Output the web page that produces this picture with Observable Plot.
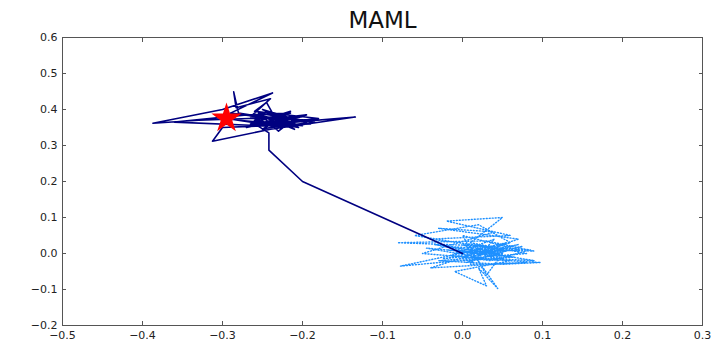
<!DOCTYPE html>
<html>
<head>
<meta charset="utf-8">
<script src="https://cdn.jsdelivr.net/npm/d3@7"></script>
<script src="https://cdn.jsdelivr.net/npm/@observablehq/plot@0.6"></script>
<style>
  html, body { margin: 0; padding: 0; background: #fff; }
</style>
</head>
<body>
<div id="chart"></div>
<script>
const title = "MAML";
const xTicks = [-0.5, -0.4, -0.3, -0.2, -0.1, 0.0, 0.1, 0.2, 0.3];
const yTicks = [-0.2, -0.1, 0.0, 0.1, 0.2, 0.3, 0.4, 0.5, 0.6];

// pre-update trajectory (light blue, dotted)
const preX = [0, 0.03, -0.04, 0.06, -0.02, 0.05, 0.01, 0.08, -0.03, 0.05, 0.0975, 0.02, -0.0775, 0.04, -0.081, 0.03, 0.089, 0.01, 0.044, 0.02, 0.03, -0.01, 0.06, -0.05, 0.04, -0.03, 0.07, 0.0, 0.09, -0.02, 0.05, -0.06, 0.02, 0.06, -0.04, 0.08, 0.01, 0.04, -0.01, 0.07, 0.0, 0.03, 0.05,
  -0.02, 0.06, 0.0, 0.045, -0.045, 0.03, 0.075, 0.005, 0.055, -0.015, 0.035, 0.085, 0.015, 0.05, -0.035, 0.025, 0.065, 0.0, 0.04, 0.02, 0.07, -0.025, 0.035, 0.06, 0.01];
const preY = [0, 0.02, 0.04, 0.05, 0.09, 0.1, 0.03, 0.0, -0.02, -0.03, -0.025, -0.015, -0.035, 0.02, 0.03, 0.035, 0.007, 0.01, -0.097, -0.04, -0.09, -0.05, -0.02, 0.0, 0.06, 0.07, 0.04, -0.01, -0.02, 0.02, 0.01, 0.05, 0.08, 0.03, -0.04, -0.025, -0.03, 0.04, 0.0, 0.01, 0.05, -0.06, 0.0,
  0.01, -0.01, 0.025, -0.02, 0.015, 0.0, 0.02, -0.025, 0.03, -0.005, -0.02, 0.01, 0.02, -0.015, 0.025, 0.005, -0.01, -0.02, 0.015, -0.005, 0.025, -0.015, 0.0, 0.01, -0.02];

// post-update trajectory (navy, solid)
const postX = [0, -0.2, -0.242, -0.242, -0.26, -0.2, -0.33, -0.387, -0.3, -0.2375, -0.29, -0.22, -0.25, -0.19, -0.3, -0.3125, -0.24, -0.134, -0.21, -0.28, -0.286, -0.283, -0.24, -0.265, -0.19, -0.25, -0.36, -0.27, -0.215, -0.26, -0.205, -0.24, -0.22, -0.27, -0.18, -0.26, -0.245, -0.23, -0.28, -0.2,
  -0.255, -0.21, -0.235, -0.195, -0.27, -0.225, -0.25, -0.2, -0.265, -0.215, -0.24, -0.185, -0.255, -0.23, -0.21, -0.25, -0.295];
const postY = [0, 0.2, 0.287, 0.335, 0.36, 0.38, 0.37, 0.362, 0.4, 0.446, 0.39, 0.37, 0.4, 0.36, 0.35, 0.312, 0.345, 0.379, 0.365, 0.39, 0.449, 0.405, 0.43, 0.38, 0.37, 0.355, 0.365, 0.385, 0.39, 0.37, 0.35, 0.39, 0.36, 0.355, 0.375, 0.395, 0.42, 0.36, 0.37, 0.355,
  0.385, 0.345, 0.375, 0.385, 0.35, 0.38, 0.345, 0.37, 0.36, 0.395, 0.35, 0.365, 0.39, 0.34, 0.375, 0.36, 0.375];

const goalX = [-0.295];
const goalY = [0.375];

const pre = preX.map((x, i) => ({x, y: preY[i]}));
const post = postX.map((x, i) => ({x, y: postY[i]}));
const goal = goalX.map((x, i) => ({x, y: goalY[i]}));

const fmt = d3.format(".1f");

const chart = Plot.plot({
  width: 718,
  height: 345,
  marginLeft: 62,
  marginRight: 16,
  marginTop: 37,
  marginBottom: 20,
  x: {domain: [-0.5, 0.3]},
  y: {domain: [-0.2, 0.6]},
  style: {fontFamily: "DejaVu Sans", fontSize: "11px", color: "#222", background: "#fff"},
  marks: [
    Plot.line(pre, {x: "x", y: "y", stroke: "#1e90ff", strokeWidth: 1.4, strokeDasharray: "1,2"}),
    Plot.line(post, {x: "x", y: "y", stroke: "#000080", strokeWidth: 1.6}),
    Plot.dot(goal, {x: "x", y: "y", symbol: "star", r: 9.5, fill: "red", stroke: "none"}),
    Plot.frame({stroke: "#555"}),
    Plot.axisX(xTicks, {anchor: "bottom", tickSize: -4, tickPadding: 10, tickFormat: fmt, label: null, stroke: "#555"}),
    Plot.axisX(xTicks, {anchor: "top", tickSize: -4, tickFormat: () => "", label: null, stroke: "#555"}),
    Plot.axisY(yTicks, {anchor: "left", tickSize: -4, tickPadding: 9, tickFormat: fmt, label: null, stroke: "#555"}),
    Plot.axisY(yTicks, {anchor: "right", tickSize: -4, tickFormat: () => "", label: null, stroke: "#555"}),
    Plot.text([title], {frameAnchor: "top", dy: -10, lineAnchor: "bottom", fontSize: 23, fill: "#111"})
  ]
});
document.getElementById("chart").appendChild(chart);
</script>
</body>
</html>
